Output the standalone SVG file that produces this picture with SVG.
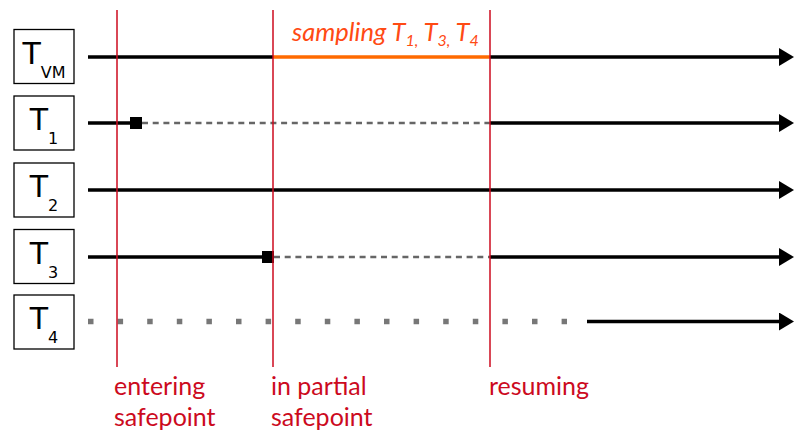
<svg xmlns="http://www.w3.org/2000/svg" width="794" height="435" viewBox="0 0 794 435">
  <style>
    .box { fill: #ffffff; stroke: #000000; stroke-width: 1.3; }
    .name { font-family: "DejaVu Sans", sans-serif; font-size: 30px; fill: #000000; text-anchor: middle; }
    .sub { font-size: 16px; }
    .run { stroke: #000000; stroke-width: 3.5; fill: none; }
    .wait { stroke: #666666; stroke-width: 2.6; stroke-dasharray: 6 4.7; fill: none; }
    .idle { stroke: #777777; stroke-width: 5.5; stroke-dasharray: 5.5 24.1; fill: none; }
    .sampling { stroke: #ff6a00; stroke-width: 3.5; }
    .stop { fill: #000000; }
    .phase { stroke: #cc0a1e; stroke-width: 1.5; }
    .phase-label { font-family: Lato, "Liberation Sans", sans-serif; font-size: 25px; fill: #cc0a1e; }
    .note { font-family: Lato, "Liberation Sans", sans-serif; font-size: 25.5px; font-style: italic; fill: #ff4a14; }
    .note-sub { font-size: 16px; }
  </style>
  <defs>
    <!-- arrowhead sized in user units: 15 long, 18 tall -->
    <marker id="head" viewBox="0 0 15 18" markerUnits="userSpaceOnUse" markerWidth="15" markerHeight="18" refX="1" refY="9" orient="auto">
      <path d="M0,0 L15,9 L0,18 z" fill="#000000"/>
    </marker>
  </defs>

  <rect width="794" height="435" fill="#ffffff"/>

  <!-- thread boxes -->
  <g id="t-vm">
    <rect class="box" x="14" y="29.5" width="60" height="54"/>
    <text class="name" x="44" y="64">T<tspan class="sub" dy="14">VM</tspan></text>
  </g>
  <g id="t1">
    <rect class="box" x="14" y="96" width="60" height="54"/>
    <text class="name" x="44" y="130">T<tspan class="sub" dy="14">1</tspan></text>
  </g>
  <g id="t2">
    <rect class="box" x="14" y="163" width="60" height="54"/>
    <text class="name" x="44" y="197">T<tspan class="sub" dy="14">2</tspan></text>
  </g>
  <g id="t3">
    <rect class="box" x="14" y="229.5" width="60" height="54"/>
    <text class="name" x="44" y="264">T<tspan class="sub" dy="14">3</tspan></text>
  </g>
  <g id="t4">
    <rect class="box" x="14" y="295" width="60" height="54"/>
    <text class="name" x="44" y="329">T<tspan class="sub" dy="14">4</tspan></text>
  </g>

  <!-- timelines -->
  <g id="connectors">
    <!-- VM thread -->
    <line class="run" x1="88" y1="57" x2="273" y2="57"/>
    <line class="sampling" x1="273" y1="57" x2="490" y2="57"/>
    <line class="run" x1="490" y1="57" x2="780" y2="57" marker-end="url(#head)"/>
    <!-- T1 -->
    <line class="run" x1="88" y1="123" x2="136" y2="123"/>
    <line class="wait" x1="142" y1="123" x2="490" y2="123"/>
    <rect class="stop" x="130" y="117" width="12" height="12"/>
    <line class="run" x1="490" y1="123" x2="780" y2="123" marker-end="url(#head)"/>
    <!-- T2 -->
    <line class="run" x1="88" y1="190" x2="780" y2="190" marker-end="url(#head)"/>
    <!-- T3 -->
    <line class="run" x1="88" y1="257" x2="268" y2="257"/>
    <line class="wait" x1="274" y1="257" x2="490" y2="257"/>
    <rect class="stop" x="262" y="251" width="12" height="12"/>
    <line class="run" x1="490" y1="257" x2="780" y2="257" marker-end="url(#head)"/>
    <!-- T4 -->
    <line class="idle" x1="88" y1="321.5" x2="567" y2="321.5"/>
    <line class="run" x1="587" y1="321.5" x2="780" y2="321.5" marker-end="url(#head)"/>
  </g>

  <!-- safepoint phases -->
  <g id="phases">
    <line class="phase" x1="117" y1="10" x2="117" y2="367"/>
    <line class="phase" x1="273" y1="10" x2="273" y2="367"/>
    <line class="phase" x1="490" y1="10" x2="490" y2="367"/>
    <text class="phase-label" x="114" y="395">entering</text>
    <text class="phase-label" x="114" y="426">safepoint</text>
    <text class="phase-label" x="271" y="395">in partial</text>
    <text class="phase-label" x="271" y="426">safepoint</text>
    <text class="phase-label" x="489" y="395">resuming</text>
  </g>

  <text class="note" x="292" y="41">sampling T<tspan class="note-sub" dy="5">1,</tspan><tspan dy="-5"> T</tspan><tspan class="note-sub" dy="5">3,</tspan><tspan dy="-5"> T</tspan><tspan class="note-sub" dy="5">4</tspan></text>
</svg>
